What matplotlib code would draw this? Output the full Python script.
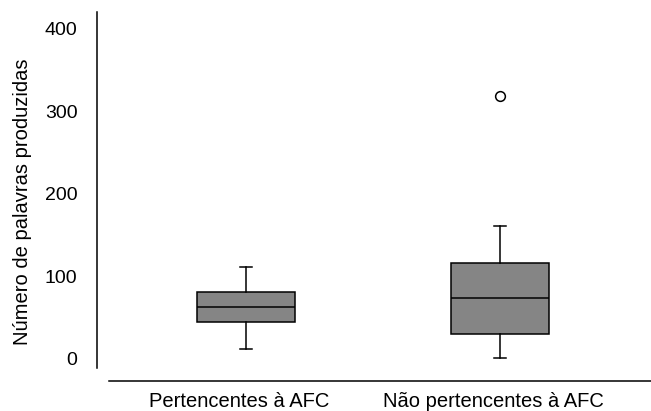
import matplotlib.pyplot as plt
from matplotlib.transforms import ScaledTranslation

# ---------------------------------------------------------
# Data
# ---------------------------------------------------------
groups = ["Pertencentes à AFC", "Não pertencentes à AFC"]
whisker_low = [12, 1]
q1 = [45, 30]
median = [63, 74]
q3 = [81, 116]
whisker_high = [111, 161]
outliers = [[], [319]]

plt.rcParams["font.family"] = ["Liberation Sans", "DejaVu Sans"]

stats = []
for i, name in enumerate(groups):
    stats.append({
        "label": name,
        "whislo": whisker_low[i],
        "q1": q1[i],
        "med": median[i],
        "q3": q3[i],
        "whishi": whisker_high[i],
        "fliers": outliers[i],
    })

# ---------------------------------------------------------
# Figure
# ---------------------------------------------------------
fig = plt.figure(figsize=(6.51, 4.11), dpi=100)
W, H = 651, 411
ax = fig.add_axes([97 / W, (H - 381) / H, (651 - 97) / W, (381 - 12) / H])

lw = 1.1
ax.bxp(
    stats,
    positions=[1, 2],
    widths=0.386,
    capwidths=0.045,
    patch_artist=True,
    boxprops=dict(facecolor="#858585", edgecolor="black", linewidth=lw),
    medianprops=dict(color="black", linewidth=lw),
    whiskerprops=dict(color="black", linewidth=lw),
    capprops=dict(color="black", linewidth=lw),
    flierprops=dict(marker="o", markersize=7, markerfacecolor="white",
                    markeredgecolor="black", markeredgewidth=lw),
)

ax.set_xlim(1 - 149 / 254, 2 + 151 / 254)
ax.set_ylim(-26.7, 420.6)

ax.spines["top"].set_visible(False)
ax.spines["right"].set_visible(False)
ax.spines["left"].set_bounds(-10.9, 420.6)
ax.spines["bottom"].set_bounds(1 - 137 / 254, 2 + 151 / 254)
ax.spines["left"].set_linewidth(lw)
ax.spines["bottom"].set_linewidth(lw)

ax.set_yticks([0, 100, 200, 300, 400])
ax.tick_params(axis="y", length=0, pad=14, labelsize=14)
ax.tick_params(axis="x", length=0, pad=8, labelsize=14.5)

# category labels sit slightly left of the boxes in the original
shift = ScaledTranslation(-6.5 / 100, 0, fig.dpi_scale_trans)
for lab in ax.get_xticklabels():
    lab.set_transform(lab.get_transform() + shift)

ax.set_ylabel("Número de palavras produzidas", fontsize=14.5)
ax.yaxis.set_label_coords(-0.117, 0.485)

fig.savefig("out.png", dpi=100)
